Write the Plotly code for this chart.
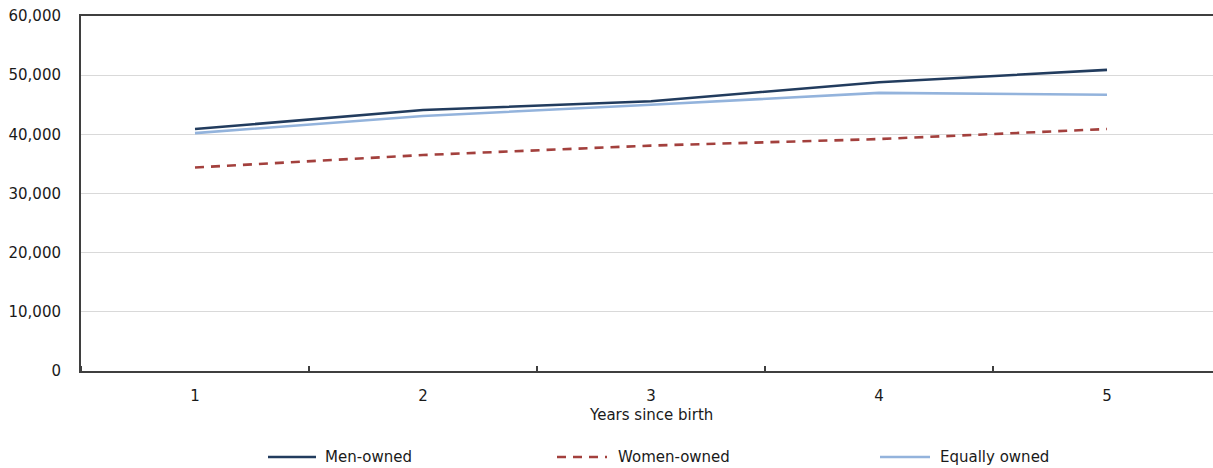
import plotly.graph_objects as go

# Average earnings by ownership type, by years since birth
years = [1, 2, 3, 4, 5]
men_owned = [40900, 44100, 45600, 48800, 50900]
women_owned = [34400, 36500, 38100, 39200, 40900]
equally_owned = [40200, 43100, 45000, 47000, 46700]

y_ticks = [0, 10000, 20000, 30000, 40000, 50000, 60000]
y_tick_text = ["0", "10,000", "20,000", "30,000", "40,000", "50,000", "60,000"]

series_names = ["Men-owned", "Women-owned", "Equally owned"]
series_colors = ["#223C5E", "#A3403D", "#93B3DC"]
series_dash = ["solid", "dash", "solid"]
series_values = [men_owned, women_owned, equally_owned]

W, H = 1213, 468
ML, MR, MT, MB = 81, 0, 16, 97
PW, PH = W - ML - MR, H - MT - MB

FONT = "DejaVu Sans"
TEXT = "#1a1a1a"


def px_x(px):
    return (px - ML) / PW


def px_y(py):
    return (H - MB - py) / PH


fig = go.Figure()
for name, vals, col, dash in zip(series_names, series_values, series_colors, series_dash):
    fig.add_trace(go.Scatter(
        x=years, y=vals, mode="lines", name=name,
        line=dict(color=col, width=2.6, dash="9px,7px" if dash == "dash" else "solid"),
        showlegend=False,
    ))

# Hand-placed legend row under the axis
legend_pos = [(268, 316, 323), (557, 607, 616), (880, 930, 938)]
legend_y = 457
for (x0, x1, xt), name, col, dash in zip(legend_pos, series_names, series_colors, series_dash):
    fig.add_shape(
        type="line", xref="paper", yref="paper",
        x0=px_x(x0), x1=px_x(x1), y0=px_y(legend_y), y1=px_y(legend_y),
        line=dict(color=col, width=2.6, dash="9px,7px" if dash == "dash" else "solid"),
    )
    fig.add_annotation(
        xref="paper", yref="paper", x=px_x(xt), y=px_y(legend_y),
        text=name, showarrow=False, xanchor="left", yanchor="middle",
        font=dict(family=FONT, size=15, color=TEXT),
    )

fig.add_annotation(
    xref="x", yref="paper", x=3, y=px_y(415),
    text="Years since birth", showarrow=False, xanchor="center", yanchor="middle",
    font=dict(family=FONT, size=15, color=TEXT),
)

fig.update_layout(
    width=W, height=H,
    margin=dict(l=ML, r=MR, t=MT, b=MB),
    paper_bgcolor="white", plot_bgcolor="white",
    font=dict(family=FONT, size=15, color=TEXT),
    showlegend=False,
)
fig.update_xaxes(
    range=[0.5, 0.5 + PW / 228.0],
    tickvals=years, ticktext=[str(v) for v in years],
    ticks="outside", ticklen=10, tickcolor="rgba(0,0,0,0)",
    showgrid=False, zeroline=False,
    showline=True, linecolor="#3f3f3f", linewidth=2, mirror=True,
    minor=dict(ticks="inside", tick0=0.5, dtick=1, ticklen=5,
               tickcolor="#3f3f3f", tickwidth=1.5, showgrid=False),
    tickfont=dict(family=FONT, size=15, color=TEXT),
)
fig.update_yaxes(
    range=[0, 60000],
    tickvals=y_ticks, ticktext=y_tick_text,
    ticks="outside", ticklen=15, tickcolor="rgba(0,0,0,0)",
    showgrid=True, gridcolor="#d9d9d9", gridwidth=1,
    zeroline=False,
    showline=True, linecolor="#3f3f3f", linewidth=2,
    tickfont=dict(family=FONT, size=15, color=TEXT),
)

fig.write_html("out.html")
